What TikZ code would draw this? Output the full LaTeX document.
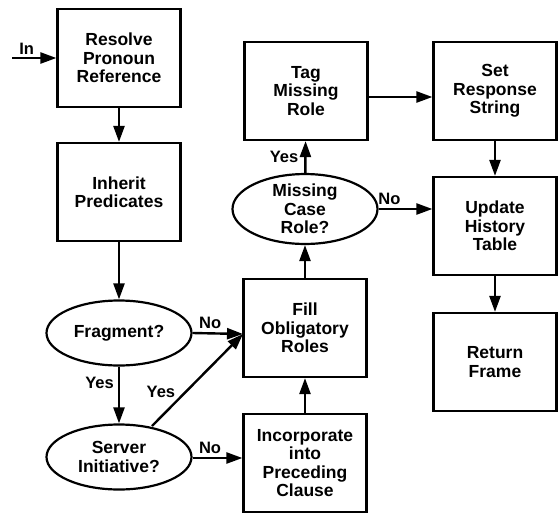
\documentclass[tikz,border=0pt]{standalone}
\usepackage{fontspec}
\setmainfont{Liberation Sans}
\usetikzlibrary{shapes.geometric,arrows.meta}
\begin{document}
\begin{tikzpicture}[x=1pt,y=-1pt,
  every node/.style={font=\bfseries\fontsize{17.5}{18.3}\selectfont, align=center},
  stepbox/.style={draw, line width=2.2pt, minimum width=123pt, minimum height=98pt, inner sep=0pt},
  decision/.style={draw, ellipse, line width=2.2pt, minimum width=145pt, minimum height=65pt, inner sep=0pt},
  flow/.style={line width=2.4pt, -{Triangle[length=16pt,width=11pt]}},
  lbl/.style={font=\bfseries\fontsize{16.5}{18}\selectfont, inner sep=0pt}]
\useasboundingbox (0,0) rectangle (558,515);
\node[stepbox] (resolve) at (119,58) {Resolve\\Pronoun\\Reference};
\node[stepbox] (inherit) at (119,192) {Inherit\\Predicates};
\node[decision] (frag) at (119,333) {Fragment?};
\node[decision] (server) at (119,457) {Server\\Initiative?};
\node[stepbox] (fill) at (305,328) {Fill\\Obligatory\\Roles};
\node[stepbox] (incorp) at (305,463) {Incorporate\\into\\Preceding\\Clause};
\node[decision] (missing) at (305,209) {Missing\\Case\\Role?};
\node[stepbox] (tag) at (306,91) {Tag\\Missing\\Role};
\node[stepbox] (set) at (495,91) {Set\\Response\\String};
\node[stepbox] (update) at (495,226) {Update\\History\\Table};
\node[stepbox] (ret) at (495,362) {Return\\Frame};
\coordinate (in) at (12,58);
\coordinate (fillin) at (243,334);
\coordinate (srvout) at (152,426);
\draw[flow] (in) -- (resolve.west) node[lbl, pos=0.33, above=2pt] {In};
\draw[flow] (resolve) -- (inherit);
\draw[flow] (inherit) -- (frag);
\draw[flow] (frag.east) -- (fillin) node[lbl, pos=0.35, above=3pt] {No};
\draw[flow] (frag) -- (server) node[lbl, pos=0.28, left=4pt] {Yes};
\draw[flow] (srvout) -- (fillin) node[lbl, pos=0.3, anchor=south east, xshift=-3pt] {Yes};
\draw[flow] (server.east) ++(0,1) coordinate (srveast) -- (incorp.west |- srveast) node[lbl, pos=0.35, above=3pt] {No};
\draw[flow] (incorp) -- (fill);
\draw[flow] (fill) -- (missing);
\draw[flow] (missing) -- (tag) node[lbl, midway, left=6pt] {Yes};
\draw[flow] (missing.east) -- (update.west |- missing.east) node[lbl, pos=0.2, above=3pt] {No};
\draw[flow] (tag.east |- 0,97) -- (set.west |- 0,97);
\draw[flow] (set) -- (update);
\draw[flow] (update) -- (ret);
\end{tikzpicture}
\end{document}
